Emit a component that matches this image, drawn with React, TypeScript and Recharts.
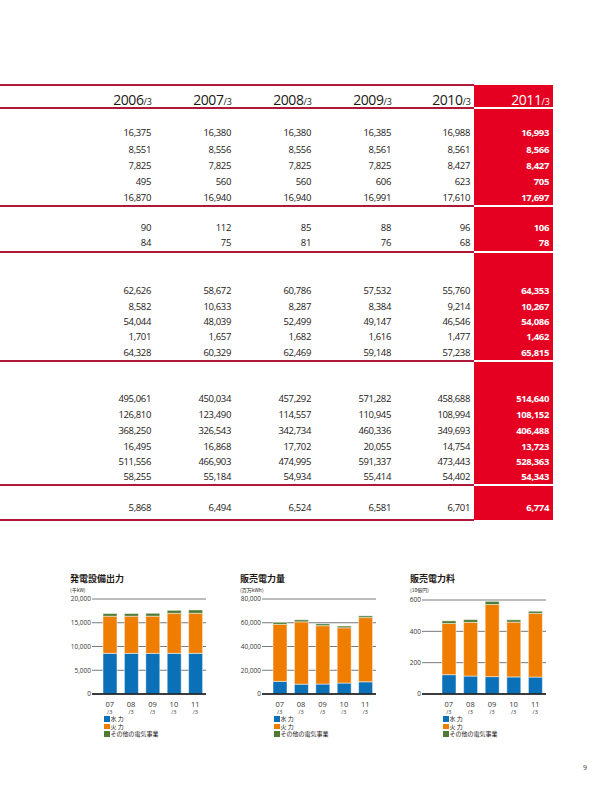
import { BarChart, Bar, XAxis, YAxis, CartesianGrid } from 'recharts'

// table columns and rows
const years = ['2006', '2007', '2008', '2009', '2010', '2011']

const capacityRows = [
  [16375, 16380, 16380, 16385, 16988, 16993],
  [8551, 8556, 8556, 8561, 8561, 8566],
  [7825, 7825, 7825, 7825, 8427, 8427],
  [495, 560, 560, 606, 623, 705],
  [16870, 16940, 16940, 16991, 17610, 17697],
]
const plantRows = [
  [90, 112, 85, 88, 96, 106],
  [84, 75, 81, 76, 68, 78],
]
const volumeRows = [
  [62626, 58672, 60786, 57532, 55760, 64353],
  [8582, 10633, 8287, 8384, 9214, 10267],
  [54044, 48039, 52499, 49147, 46546, 54086],
  [1701, 1657, 1682, 1616, 1477, 1462],
  [64328, 60329, 62469, 59148, 57238, 65815],
]
const revenueRows = [
  [495061, 450034, 457292, 571282, 458688, 514640],
  [126810, 123490, 114557, 110945, 108994, 108152],
  [368250, 326543, 342734, 460336, 349693, 406488],
  [16495, 16868, 17702, 20055, 14754, 13723],
  [511556, 466903, 474995, 591337, 473443, 528363],
  [58255, 55184, 54934, 55414, 54402, 54343],
]
const staffRows = [[5868, 6494, 6524, 6581, 6701, 6774]]

// charts (07/3 - 11/3)
const periods = ['07', '08', '09', '10', '11']
const capHydro = [8556, 8556, 8561, 8561, 8566]
const capThermal = [7825, 7825, 7825, 8427, 8427]
const capOther = [560, 560, 606, 623, 705]
const volHydro = [10633, 8287, 8384, 9214, 10267]
const volThermal = [48039, 52499, 49147, 46546, 54086]
const volOther = [1657, 1682, 1616, 1477, 1462]
const revHydro = [123.5, 114.6, 110.9, 109.0, 108.2]
const revThermal = [326.5, 342.7, 460.3, 349.7, 406.5]
const revOther = [16.9, 17.7, 20.1, 14.8, 13.7]

const HYDRO = '#0a70b8'
const THERMAL = '#ef7d00'
const OTHER = '#4f7a34'
const LINE_RED = '#b0183a'
const COL_RED = '#e50021'
const TEXT = '#231815'
const JP = '"Noto Sans CJK JP", "Noto Sans", sans-serif'

const COL_RIGHT = [151, 231, 311, 391, 470, 549]

const blocks = [
  { rows: capacityRows, ys: [133, 150, 166, 182, 198] },
  { rows: plantRows, ys: [228, 243] },
  { rows: volumeRows, ys: [291, 307, 322, 337, 353] },
  { rows: revenueRows, ys: [399, 415, 431, 447, 462, 477] },
  { rows: staffRows, ys: [508] },
]
const separators = [108, 206, 252, 361, 485]

const fmt = (v: number) => v.toLocaleString('en-US')

const build = (h: number[], t: number[], o: number[]) =>
  periods.map((p, i) => ({ period: p, hydro: h[i], thermal: t[i], other: o[i] }))

const PeriodTick = ({ x, y, payload }: any) => (
  <g transform={`translate(${x},${y})`}>
    <text textAnchor="middle" y={10.5} fontSize={7.5} fill="#333" fontFamily="Open Sans">
      {payload.value}
    </text>
    <text textAnchor="middle" y={17.5} fontSize={5.5} fill="#333" fontFamily="Open Sans">
      /3
    </text>
  </g>
)

interface ChartProps {
  left: number
  title: string
  unit: string
  data: { period: string; hydro: number; thermal: number; other: number }[]
  ticks: number[]
  axisWidth: number
  padLeft: number
  top: number
  legendLeft: number
}

const MiniChart = ({ left, title, unit, data, ticks, axisWidth, padLeft, top, legendLeft }: ChartProps) => (
  <>
    <div style={{ position: 'absolute', left: left + 10, top: 573, fontSize: 9, fontWeight: 700, color: TEXT, fontFamily: JP, lineHeight: '12px', whiteSpace: 'nowrap' }}>
      {title}
    </div>
    <div style={{ position: 'absolute', left: left + 10, top: 587, fontSize: 5, color: TEXT, fontFamily: JP, lineHeight: '6px', whiteSpace: 'nowrap' }}>
      {unit}
    </div>
    <div style={{ position: 'absolute', left, top }}>
      <BarChart width={150} height={694 - top + 21} data={data} margin={{ top: 599 - top + (top === 591 ? 1 : 0), right: 4, left: 0, bottom: 0 }}>
        <CartesianGrid vertical={false} stroke="#555" strokeWidth={0.8} />
        <XAxis
          dataKey="period"
          height={21}
          tickLine={false}
          tickSize={0}
          tick={<PeriodTick />}
          axisLine={{ stroke: '#111', strokeWidth: 1.5 }}
          padding={{ left: padLeft, right: 0 }}
          interval={0}
        />
        <YAxis
          width={axisWidth}
          domain={[0, ticks[ticks.length - 1]]}
          ticks={ticks}
          tickFormatter={fmt}
          axisLine={false}
          tickLine={false}
          tickSize={0}
          tickMargin={1}
          tick={{ fontSize: 6.5, fill: '#333', fontFamily: 'Open Sans' }}
        />
        <Bar dataKey="hydro" stackId="a" fill={HYDRO} stroke="#fff" strokeWidth={0.5} barSize={14} isAnimationActive={false} />
        <Bar dataKey="thermal" stackId="a" fill={THERMAL} stroke="#fff" strokeWidth={0.5} barSize={14} isAnimationActive={false} />
        <Bar dataKey="other" stackId="a" fill={OTHER} stroke="#fff" strokeWidth={0.5} barSize={14} isAnimationActive={false} />
      </BarChart>
    </div>
    <div style={{ position: 'absolute', left: legendLeft, top: 715, fontFamily: JP, fontSize: 6, color: TEXT, lineHeight: '7.5px' }}>
      {[
        [HYDRO, '水 力'],
        [THERMAL, '火 力'],
        [OTHER, 'その他の電気事業'],
      ].map(([c, label]) => (
        <div key={label} style={{ display: 'flex', alignItems: 'center', whiteSpace: 'nowrap' }}>
          <span style={{ display: 'inline-block', width: 5.5, height: 5.5, background: c, marginRight: 1 }} />
          {label}
        </div>
      ))}
    </div>
  </>
)

const App = () => {
  return (
    <div style={{ position: 'absolute', left: 0, top: 0, width: 609, height: 794, background: '#fff', overflow: 'hidden', fontFamily: '"Open Sans", sans-serif', color: TEXT }}>
      {/* highlighted latest column */}
      <div style={{ position: 'absolute', left: 474, top: 85, width: 79, height: 435, background: COL_RED }} />
      <div style={{ position: 'absolute', left: 0, top: 84, width: 474, height: 1.5, background: LINE_RED }} />
      <div style={{ position: 'absolute', left: 0, top: 519, width: 474, height: 1.5, background: LINE_RED }} />
      {separators.map((y) => (
        <div key={y}>
          <div style={{ position: 'absolute', left: 0, top: y - 1, width: 474, height: 1.5, background: LINE_RED }} />
          <div style={{ position: 'absolute', left: 474, top: y - 1, width: 79, height: 2, background: '#fff' }} />
        </div>
      ))}

      {years.map((yr, i) => (
        <div
          key={yr}
          style={{ position: 'absolute', left: COL_RIGHT[i] - 70, width: 71, top: 90, textAlign: 'right', lineHeight: '18px', whiteSpace: 'nowrap', color: i === 5 ? '#fff' : TEXT }}
        >
          <span style={{ fontSize: 14, letterSpacing: -0.4 }}>{yr}</span>
          <span style={{ fontSize: 9 }}>/3</span>
        </div>
      ))}

      {blocks.map((b, bi) =>
        b.rows.map((row, ri) =>
          row.map((v, ci) => (
            <div
              key={`${bi}-${ri}-${ci}`}
              style={{
                position: 'absolute',
                left: COL_RIGHT[ci] - 70,
                width: 70,
                top: b.ys[ri] - 6,
                lineHeight: '12px',
                textAlign: 'right',
                fontSize: 9.5,
                letterSpacing: -0.35,
                fontWeight: ci === 5 ? 700 : 400,
                color: ci === 5 ? '#fff' : TEXT,
              }}
            >
              {fmt(v)}
            </div>
          ))
        )
      )}

      <MiniChart
        left={60}
        top={590}
        title="発電設備出力"
        unit="(千kW)"
        data={build(capHydro, capThermal, capOther)}
        ticks={[0, 5000, 10000, 15000, 20000]}
        axisWidth={32}
        padLeft={7}
        legendLeft={104}
      />
      <MiniChart
        left={230}
        top={590}
        title="販売電力量"
        unit="(百万kWh)"
        data={build(volHydro, volThermal, volOther)}
        ticks={[0, 20000, 40000, 60000, 80000]}
        axisWidth={32}
        padLeft={7}
        legendLeft={274}
      />
      <MiniChart
        left={400}
        top={591}
        title="販売電力料"
        unit="(10億円)"
        data={build(revHydro, revThermal, revOther)}
        ticks={[0, 200, 400, 600]}
        axisWidth={22}
        padLeft={16}
        legendLeft={443}
      />

      <div style={{ position: 'absolute', left: 583, top: 763, fontSize: 7, color: '#333' }}>9</div>
    </div>
  )
}

export default App
